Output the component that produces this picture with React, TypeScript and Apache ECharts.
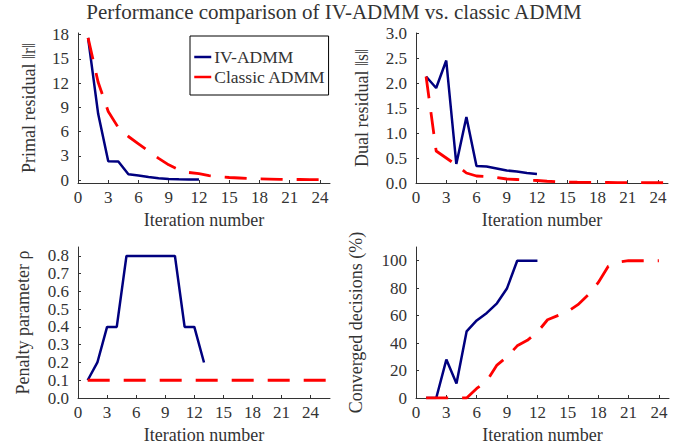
import React, { useEffect, useRef } from "react";
import * as echarts from "echarts";

// ---- data ----
const titleText = "Performance comparison of IV-ADMM vs. classic ADMM";
const seriesNames = ["IV-ADMM", "Classic ADMM"];
const xTicks = [0, 3, 6, 9, 12, 15, 18, 21, 24];
const primalTicks = [0, 3, 6, 9, 12, 15, 18];
const dualTicks = [0, 0.5, 1.0, 1.5, 2.0, 2.5, 3.0];
const penaltyTicks = [0, 0.1, 0.2, 0.3, 0.4, 0.5, 0.6, 0.7, 0.8];
const convTicks = [0, 20, 40, 60, 80, 100];

const primalIV = [17.6, 8.2, 2.35, 2.3, 0.72, 0.58, 0.4, 0.25, 0.15, 0.1, 0.08, 0.07];
const primalClassic = [17.6, 12.1, 8.5, 6.5, 5.4, 4.5, 3.6, 2.7, 1.9, 1.3, 0.95, 0.8, 0.55, 0.42, 0.33, 0.27, 0.21, 0.17, 0.14, 0.11, 0.09, 0.08, 0.07, 0.06, 0.05];

const dualIV = [2.13, 1.9, 2.45, 0.38, 1.32, 0.34, 0.33, 0.29, 0.25, 0.23, 0.2, 0.18];
const dualClassic = [2.13, 0.64, 0.5, 0.36, 0.2, 0.14, 0.13, 0.11, 0.08, 0.07, 0.06, 0.05, 0.035, 0.025, 0.02, 0.015, 0.012, 0.01, 0.01, 0.008, 0.007, 0.006, 0.005, 0.005, 0.005];

const penaltyIV = [0.1, 0.2, 0.4, 0.4, 0.8, 0.8, 0.8, 0.8, 0.8, 0.8, 0.4, 0.4, 0.2];
const penaltyClassic = [0.1, 0.1, 0.1, 0.1, 0.1, 0.1, 0.1, 0.1, 0.1, 0.1, 0.1, 0.1, 0.1, 0.1, 0.1, 0.1, 0.1, 0.1, 0.1, 0.1, 0.1, 0.1, 0.1, 0.1, 0.1, 0.1];

const convIV = [0, 0, 28, 10.5, 48.5, 56.5, 62, 69, 80, 100, 100, 100];
const convClassic = [0, 0, 0, 0, 0, 7, 12.5, 24, 30, 38, 42, 48, 57, 60, 63, 68, 75, 84, 96, 99, 100, 100, 100, 100];

const yNames = ["Primal residual \u2016r\u2016", "Dual residual \u2016s\u2016", "Penalty parameter \u03c1", "Converged decisions (%)"];
const xName = "Iteration number";

const FONT = "'Liberation Serif', 'Times New Roman', serif";
const TXT = "#333";
const BLUE = "#00007f";
const RED = "#ff0000";

const toPairs = (arr: number[]) => arr.map((v, i) => [i + 1, v]);

export default function App() {
  const ref = useRef<HTMLDivElement>(null);
  useEffect(() => {
    if (!ref.current) return;
    const chart = echarts.init(ref.current, null, { renderer: "svg" });

    const grids = [
      { left: 78, top: 33, width: 252, height: 150 },
      { left: 416, top: 33, width: 252, height: 150 },
      { left: 78, top: 247, width: 252, height: 151 },
      { left: 416, top: 247, width: 253, height: 151 },
    ];
    const xMax = [25, 25, 26, 25];
    const yCfg = [
      { min: -0.35, max: 18.2, ticks: primalTicks, fmt: (v: number) => String(v), gap: 40 },
      { min: 0, max: 3.0, ticks: dualTicks, fmt: (v: number) => v.toFixed(1), gap: 45 },
      { min: 0, max: 0.85, ticks: penaltyTicks, fmt: (v: number) => v.toFixed(1), gap: 46 },
      { min: 0, max: 110, ticks: convTicks, fmt: (v: number) => String(v), gap: 51 },
    ];

    const axisLine = { show: true, onZero: false, lineStyle: { color: "#333", width: 1 } };
    const axisTick = { show: true, inside: true, length: 3, lineStyle: { color: "#333" } };

    const xAxis = grids.map((_, i) => ({
      type: "value",
      gridIndex: i,
      min: 0,
      max: xMax[i],
      name: xName,
      nameLocation: "middle",
      nameGap: 28,
      nameTextStyle: { fontFamily: FONT, fontSize: 18, color: TXT },
      axisLine,
      axisTick: { ...axisTick, customValues: xTicks },
      splitLine: { show: false },
      axisLabel: { customValues: xTicks, fontFamily: FONT, fontSize: 17, color: TXT, margin: 6, hideOverlap: false },
    }));

    const yAxis = yCfg.map((c, i) => ({
      type: "value",
      gridIndex: i,
      min: c.min,
      max: c.max,
      name: yNames[i],
      nameLocation: "middle",
      nameGap: c.gap,
      nameTextStyle: { fontFamily: FONT, fontSize: 18, color: TXT },
      axisLine,
      axisTick: { ...axisTick, customValues: c.ticks },
      splitLine: { show: false },
      axisLabel: {
        customValues: c.ticks,
        formatter: c.fmt,
        fontFamily: FONT,
        fontSize: 17,
        lineHeight: 14,
        color: TXT,
        margin: 9,
        hideOverlap: false,
      },
    }));

    const ivData = [primalIV, dualIV, penaltyIV, convIV];
    const clData = [primalClassic, dualClassic, penaltyClassic, convClassic];
    const series: any[] = [];
    for (let i = 0; i < 4; i++) {
      series.push({
        type: "line",
        name: seriesNames[0],
        xAxisIndex: i,
        yAxisIndex: i,
        data: toPairs(ivData[i]),
        symbol: "none",
        lineStyle: { color: BLUE, width: 2.5 },
        itemStyle: { color: BLUE },
        z: 2,
      });
      series.push({
        type: "line",
        name: seriesNames[1],
        xAxisIndex: i,
        yAxisIndex: i,
        data: toPairs(clData[i]),
        symbol: "none",
        lineStyle: { color: RED, width: 2.8, type: [22, 14] },
        itemStyle: { color: RED },
        z: 3,
      });
    }

    chart.setOption({
      animation: false,
      backgroundColor: "#fff",
      title: {
        text: titleText,
        left: 334,
        textAlign: "center",
        top: 1,
        padding: 0,
        textStyle: { fontFamily: FONT, fontSize: 21, fontWeight: "normal", color: TXT },
      },
      legend: {
        data: seriesNames,
        orient: "vertical",
        left: 190,
        top: 36,
        itemGap: 2,
        itemWidth: 17,
        itemHeight: 10,
        padding: [12, 3, 9, 3],
        borderColor: "#000",
        borderWidth: 1,
        backgroundColor: "#fff",
        itemStyle: { opacity: 0 },
        lineStyle: { width: 2.5 },
        textStyle: { fontFamily: FONT, fontSize: 17.5, lineHeight: 17, color: TXT, padding: [0, 0, 0, -2] },
      },
      grid: grids,
      xAxis,
      yAxis,
      series,
    });
    return () => chart.dispose();
  }, []);
  return <div ref={ref} style={{ position: "absolute", left: 0, top: 0, width: 690, height: 446 }} />;
}
